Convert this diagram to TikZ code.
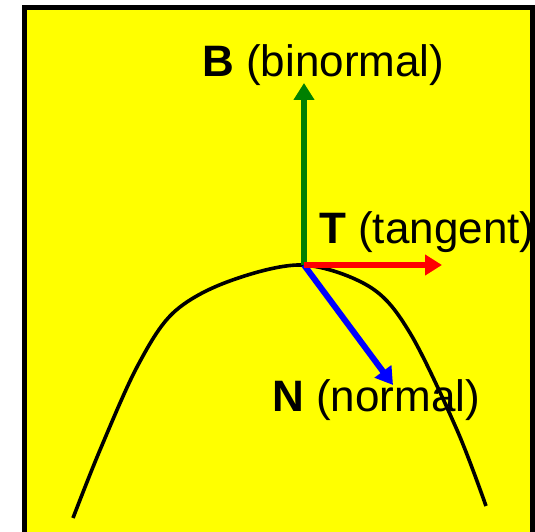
\documentclass[tikz,border=0pt]{standalone}
\usepackage{fontspec}
\setmainfont{Liberation Sans}
\usetikzlibrary{arrows.meta}
\definecolor{bgyellow}{RGB}{255,255,0}
\definecolor{bgreen}{RGB}{0,128,0}
\tikzset{
  vec/.style={line width=6pt,-{Triangle[length=17pt,width=20pt]}},
  lbl/.style={inner sep=0pt,anchor=base west,font=\fontsize{44}{50}\selectfont},
  curve/.style={line width=3.6pt,black}
}
\begin{document}
\begin{tikzpicture}[x=1pt,y=-1pt]
\useasboundingbox (0,0) rectangle (535,532);
\clip (0,0) rectangle (535,532);
\draw[fill=bgyellow,line width=5pt] (24.5,7.5) rectangle (532.5,560);
\draw[curve] plot[smooth,tension=0.55] coordinates {(73,518) (100,450) (137,367) (173,313) (227,282) (302,265) (370,287) (410,333) (457,430) (486,506)};
\coordinate (O) at (304,265);
\coordinate (Btip) at (304,83);
\coordinate (Ttip) at (442,265);
\coordinate (Ntip) at (393,385);
\draw[vec,blue] (O) -- (Ntip);
\draw[vec,bgreen] (O) -- (Btip);
\draw[vec,red] (O) -- (Ttip);
\node[lbl] (B) at (202,77) {\textbf{B} (binormal)};
\node[lbl] (T) at (319,243) {\textbf{T} (tangent)};
\node[lbl] (N) at (272,411) {\textbf{N} (normal)};
\end{tikzpicture}
\end{document}
